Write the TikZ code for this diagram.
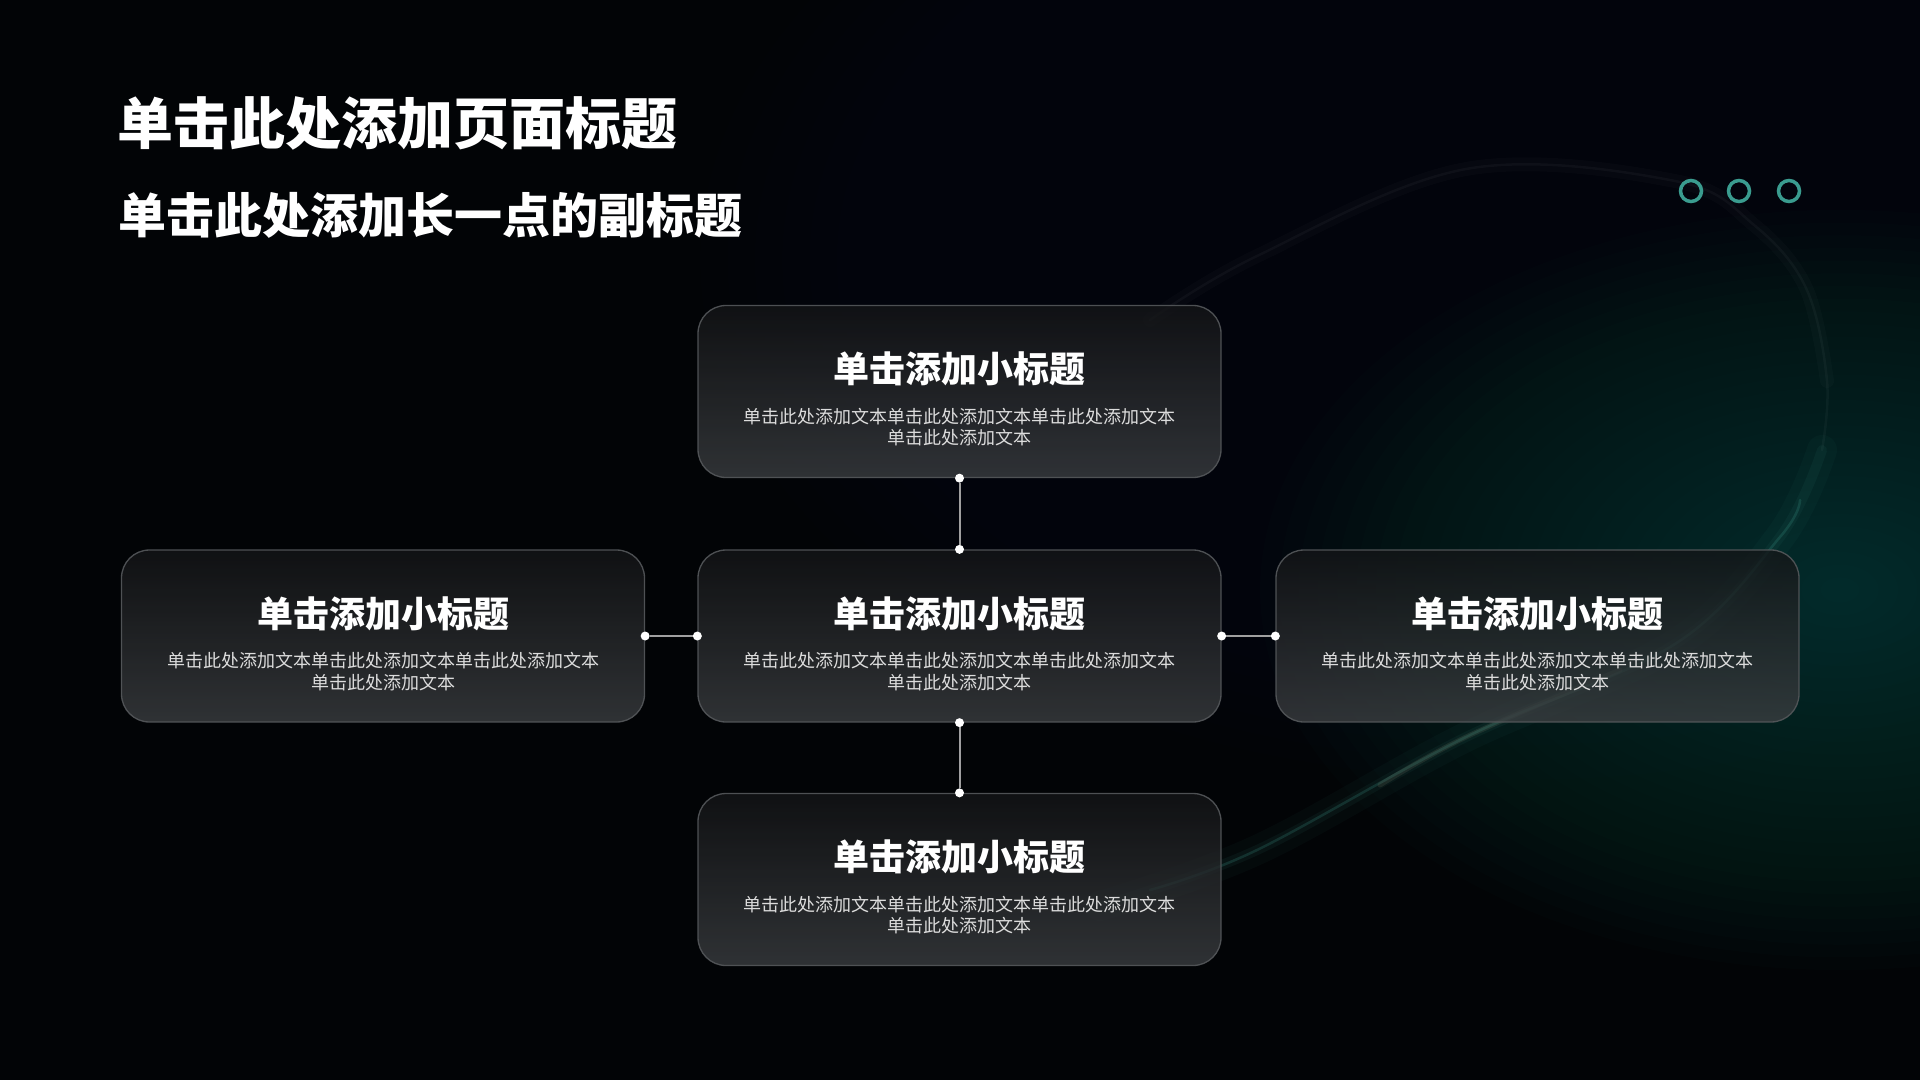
\documentclass[tikz,border=0pt]{standalone}
\usepackage{fontspec}
\setmainfont{Noto Sans CJK SC}
\definecolor{bgc}{HTML}{020406}
\definecolor{glowteal}{HTML}{10524B}
\definecolor{glowblue}{HTML}{0B2630}
\definecolor{cardtop}{HTML}{141517}
\definecolor{cardbot}{HTML}{3C3F42}
\definecolor{cardline}{HTML}{55585B}
\definecolor{bodytext}{HTML}{DCDCDC}
\definecolor{linkc}{HTML}{A0A0A0}
\definecolor{ringc}{HTML}{3A9C8F}
\definecolor{arcc}{HTML}{3E9A8C}
\definecolor{warmc}{HTML}{9A9A80}
\tikzset{
  card/.style={rounded corners=28pt, minimum width=523pt, minimum height=172pt,
    draw=cardline, line width=1.3pt, top color=cardtop, bottom color=cardbot,
    fill opacity=0.78, draw opacity=0.9, inner sep=0pt},
  head/.style={text=white, font=\fontsize{36}{40}\selectfont\bfseries, inner sep=0pt},
  body/.style={text=bodytext, font=\fontsize{18}{21.5}\selectfont, align=center, inner sep=0pt},
  dotc/.style={circle, fill=white, minimum size=9pt, inner sep=0pt},
  link/.style={draw=linkc, line width=2pt},
  ring/.style={circle, draw=ringc, line width=3.5pt, minimum size=21pt, inner sep=0pt},
}
\begin{document}
\begin{tikzpicture}[x=1pt,y=-1pt]
\useasboundingbox (0,0) rectangle (1920,1080);
\fill[bgc] (0,0) rectangle (1920,1080);
\begin{scope}
\clip (0,0) rectangle (1920,1080);
\foreach \i in {1,...,30}{
  \fill[glowblue, opacity=0.028] (1520,260) ellipse ({27.33*\i} and {17.33*\i});
}
\foreach \i in {1,...,30}{
  \fill[glowteal, opacity=0.03] (1840,590) ellipse ({19.33*\i} and {12.67*\i});
}
% faint upper arc
\draw[white, opacity=0.018, line width=14pt, line cap=round] plot[smooth, tension=0.6] coordinates {(1150,320) (1257,256) (1466,169) (1675,181) (1754,225) (1806,288) (1827,381)};
\draw[white, opacity=0.035, line width=2.5pt, line cap=round] plot[smooth, tension=0.6] coordinates {(1150,320) (1257,256) (1466,169) (1675,181) (1754,225) (1806,288) (1827,381) (1822,450)};
% brighter lower arc
\draw[arcc, opacity=0.045, line width=30pt, line cap=round] plot[smooth, tension=0.6] coordinates {(1822,450) (1780,537) (1675,644) (1466,737) (1257,850) (1100,906)};
\draw[arcc, opacity=0.07, line width=10pt, line cap=round] plot[smooth, tension=0.6] coordinates {(1822,450) (1780,537) (1675,644) (1466,737) (1257,850) (1100,906)};
\draw[arcc, opacity=0.22, line width=2.5pt, line cap=round] plot[smooth, tension=0.6] coordinates {(1800,500) (1780,537) (1675,644) (1466,737) (1257,850) (1150,890)};
\draw[warmc, opacity=0.14, line width=5pt, line cap=round] plot[smooth, tension=0.6] coordinates {(1620,670) (1466,737) (1380,785)};
\end{scope}

% titles
\node[anchor=west, text=white, font=\fontsize{56}{60}\selectfont\bfseries, inner sep=0pt] (title) at (117,123) {单击此处添加页面标题};
\node[anchor=west, text=white, font=\fontsize{48}{52}\selectfont\bfseries, inner sep=0pt] (subtitle) at (118,215) {单击此处添加长一点的副标题};

% rings
\node[ring] (r1) at (1691,191) {};
\node[ring] (r2) at (1739,191) {};
\node[ring] (r3) at (1789,191) {};

% cards
\node[card] (top) at (959.5,391.5) {};
\node[card] (mid) at (959.5,636) {};
\node[card] (lft) at (383,636) {};
\node[card] (rgt) at (1537.5,636) {};
\node[card] (bot) at (959.5,879.5) {};

\foreach \n in {top,mid,lft,rgt,bot}{
  \node[head, yshift=22.5pt] (\n-h) at (\n) {单击添加小标题};
  \node[body, yshift=-35.5pt] (\n-b) at (\n) {单击此处添加文本单击此处添加文本单击此处添加文本\\单击此处添加文本};
}

% connectors
\node[dotc] (d1) at (top.south) {};
\node[dotc] (d2) at (mid.north) {};
\node[dotc] (d3) at (lft.east) {};
\node[dotc] (d4) at (mid.west) {};
\node[dotc] (d5) at (mid.east) {};
\node[dotc] (d6) at (rgt.west) {};
\node[dotc] (d7) at (mid.south) {};
\node[dotc] (d8) at (bot.north) {};
\draw[link] (d1) -- (d2);
\draw[link] (d3) -- (d4);
\draw[link] (d5) -- (d6);
\draw[link] (d7) -- (d8);
\end{tikzpicture}
\end{document}
